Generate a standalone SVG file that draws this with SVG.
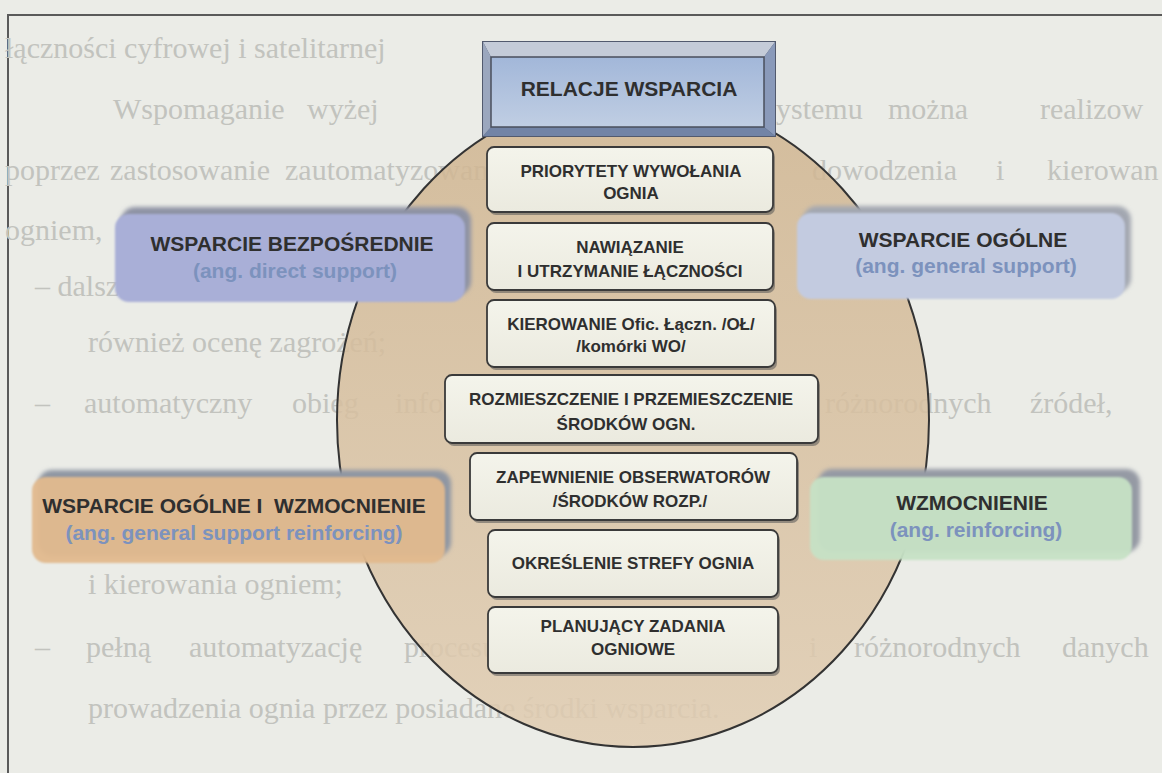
<svg xmlns="http://www.w3.org/2000/svg" width="1162" height="773" viewBox="0 0 1162 773">
<defs>
  <linearGradient id="gEll" x1="0" y1="0" x2="0" y2="1">
    <stop offset="0" stop-color="#cfb48f"/>
    <stop offset="1" stop-color="#e0ccb1"/>
  </linearGradient>
  <linearGradient id="gFace" x1="0" y1="0" x2="0" y2="1">
    <stop offset="0" stop-color="#a2b7d9"/>
    <stop offset="1" stop-color="#c0cee3"/>
  </linearGradient>
  <linearGradient id="gBox" x1="0" y1="0" x2="0" y2="1">
    <stop offset="0" stop-color="#f4f4eb"/>
    <stop offset="1" stop-color="#ebeadf"/>
  </linearGradient>
  <filter id="soft" x="-10%" y="-20%" width="120%" height="140%"><feGaussianBlur stdDeviation="2.2"/></filter>
  <filter id="soft1" x="-5%" y="-10%" width="110%" height="120%"><feGaussianBlur stdDeviation="1"/></filter>
</defs>
<style>
  .page{font-family:"Liberation Serif","Times New Roman",serif;font-size:30px;fill:#c2c3be}
  .t{font-family:"Liberation Sans",Arial,sans-serif;font-weight:bold;fill:#2f2f2f;text-anchor:middle}
  .side{font-size:21px}
  .sub{font-size:21px;fill:#7c92bd}
  .cb{font-size:17px}
  .box{fill:url(#gBox);stroke:#3a3a3a;stroke-width:1.8}
  .bsh{fill:#555;opacity:.55}
  .frame{fill:none;stroke:#5a5a5a;stroke-width:2}
</style>

<!-- page background, frame and faint page text -->
<rect x="0" y="0" width="1162" height="773" fill="#ebece7"/>
<path class="frame" d="M8,773 V15 H1162"/>
<g id="page-text">
  <text class="page" x="5" y="58">łączności cyfrowej i satelitarnej</text>
  <text class="page" y="119"><tspan x="113">Wspomaganie</tspan><tspan x="307">wyżej</tspan><tspan x="776">ystemu</tspan><tspan x="888">można</tspan><tspan x="1040">realizow</tspan></text>
  <text class="page" y="180"><tspan x="5">poprzez</tspan><tspan x="110">zastosowanie</tspan><tspan x="285">zautomatyzowanych</tspan><tspan x="812">dowodzenia</tspan><tspan x="996">i</tspan><tspan x="1047">kierowan</tspan></text>
  <text class="page" x="5" y="240">ogniem,</text>
  <text class="page" x="35" y="296">– dalsze</text>
  <text class="page" x="88" y="352">również ocenę zagrożeń;</text>
  <text class="page" y="413"><tspan x="35">–</tspan><tspan x="84">automatyczny</tspan><tspan x="292">obieg</tspan><tspan x="395">infor</tspan><tspan x="825">różnorodnych</tspan><tspan x="1030">źródeł,</tspan></text>
  <text class="page" x="88" y="594">i kierowania ogniem;</text>
  <text class="page" y="657"><tspan x="35">–</tspan><tspan x="86">pełną</tspan><tspan x="189">automatyzację</tspan><tspan x="404">procesu</tspan><tspan x="809">i</tspan><tspan x="854">różnorodnych</tspan><tspan x="1062">danych</tspan></text>
  <text class="page" x="88" y="718">prowadzenia ognia przez posiadane środki wsparcia.</text>
</g>

<!-- big ellipse -->
<g id="krag">
  <ellipse cx="633" cy="420" rx="296" ry="327" fill="url(#gEll)" fill-opacity="0.85" stroke="#333" stroke-width="2"/>
</g>

<g id="connectors"></g>

<!-- top title box -->
<g id="relacje-wsparcia">
  <rect x="482" y="41" width="294" height="96" fill="#525a6e"/>
  <polygon points="483,42 775,42 764,57 491,57" fill="#c4cbd8"/>
  <polygon points="775,42 775,136 764,127 764,57" fill="#8a9aba"/>
  <polygon points="483,136 775,136 764,127 491,127" fill="#7284a6"/>
  <polygon points="483,42 491,57 491,127 483,136" fill="#9ba7be"/>
  <rect x="491" y="57" width="273" height="70" fill="url(#gFace)" stroke="#4a4f5c" stroke-width="1.5"/>
  <text class="t" font-size="21" x="629" y="96">RELACJE WSPARCIA</text>
</g>

<!-- side boxes -->
<g id="wsparcie-bezposrednie">
  <rect x="121" y="207" width="350" height="88" rx="14" fill="#8e93a4" filter="url(#soft)"/>
  <rect x="115" y="214" width="350" height="88" rx="14" fill="#a9afd7" filter="url(#soft1)"/>
  <text class="t side" x="292" y="251">WSPARCIE BEZPOŚREDNIE</text>
  <text class="t sub" x="295" y="278">(ang. direct support)</text>
</g>

<g id="wsparcie-ogolne">
  <rect x="803" y="206" width="328" height="86" rx="14" fill="#a3a7b1" filter="url(#soft)"/>
  <rect x="797" y="213" width="328" height="86" rx="14" fill="#c3cbe0" filter="url(#soft1)"/>
  <text class="t side" x="963" y="247">WSPARCIE OGÓLNE</text>
  <text class="t sub" x="966" y="273">(ang. general support)</text>
</g>

<g id="wsparcie-ogolne-wzmocnienie">
  <rect x="38" y="470" width="413" height="86" rx="14" fill="#8f96a3" filter="url(#soft)"/>
  <rect x="32" y="477" width="413" height="86" rx="14" fill="#e1b98d" fill-opacity="0.95" filter="url(#soft1)"/>
  <text class="t side" x="234" y="513" xml:space="preserve">WSPARCIE OGÓLNE I  WZMOCNIENIE</text>
  <text class="t sub" x="234" y="540">(ang. general support reinforcing)</text>
</g>

<g id="wzmocnienie">
  <rect x="818" y="469" width="322" height="83" rx="14" fill="#959aa4" filter="url(#soft)"/>
  <rect x="810" y="477" width="322" height="83" rx="14" fill="#c6e2c5" fill-opacity="0.95" filter="url(#soft1)"/>
  <text class="t side" x="972" y="510">WZMOCNIENIE</text>
  <text class="t sub" x="976" y="537">(ang. reinforcing)</text>
</g>

<!-- central stack -->
<g id="priorytety">
  <rect class="bsh" x="489" y="150" width="286" height="65" rx="7"/>
  <rect class="box" x="487" y="147" width="286" height="65" rx="7"/>
  <text class="t cb" x="631" y="177">PRIORYTETY WYWOŁANIA</text>
  <text class="t cb" x="631" y="199">OGNIA</text>
</g>

<g id="nawiazanie">
  <rect class="bsh" x="489" y="226" width="286" height="67" rx="7"/>
  <rect class="box" x="487" y="223" width="286" height="67" rx="7"/>
  <text class="t cb" x="630" y="253">NAWIĄZANIE</text>
  <text class="t cb" x="630" y="277">I UTRZYMANIE ŁĄCZNOŚCI</text>
</g>

<g id="kierowanie">
  <rect class="bsh" x="489" y="303" width="288" height="67" rx="7"/>
  <rect class="box" x="487" y="300" width="288" height="67" rx="7"/>
  <text class="t cb" x="631" y="330">KIEROWANIE Ofic. Łączn. /OŁ/</text>
  <text class="t cb" x="631" y="352">/komórki WO/</text>
</g>

<g id="rozmieszczenie">
  <rect class="bsh" x="447" y="378" width="373" height="68" rx="7"/>
  <rect class="box" x="445" y="375" width="373" height="68" rx="7"/>
  <text class="t cb" x="631" y="405">ROZMIESZCZENIE I PRZEMIESZCZENIE</text>
  <text class="t cb" x="626" y="430">ŚRODKÓW OGN.</text>
</g>

<g id="zapewnienie">
  <rect class="bsh" x="472" y="456" width="327" height="67" rx="7"/>
  <rect class="box" x="470" y="453" width="327" height="67" rx="7"/>
  <text class="t cb" x="633" y="483">ZAPEWNIENIE OBSERWATORÓW</text>
  <text class="t cb" x="630" y="507">/ŚRODKÓW ROZP./</text>
</g>

<g id="okreslenie">
  <rect class="bsh" x="490" y="533" width="290" height="67" rx="7"/>
  <rect class="box" x="488" y="530" width="290" height="67" rx="7"/>
  <text class="t cb" x="633" y="569">OKREŚLENIE STREFY OGNIA</text>
</g>

<g id="planujacy">
  <rect class="bsh" x="490" y="610" width="290" height="66" rx="7"/>
  <rect class="box" x="488" y="607" width="290" height="66" rx="7"/>
  <text class="t cb" x="633" y="632">PLANUJĄCY ZADANIA</text>
  <text class="t cb" x="633" y="655">OGNIOWE</text>
</g>
</svg>
